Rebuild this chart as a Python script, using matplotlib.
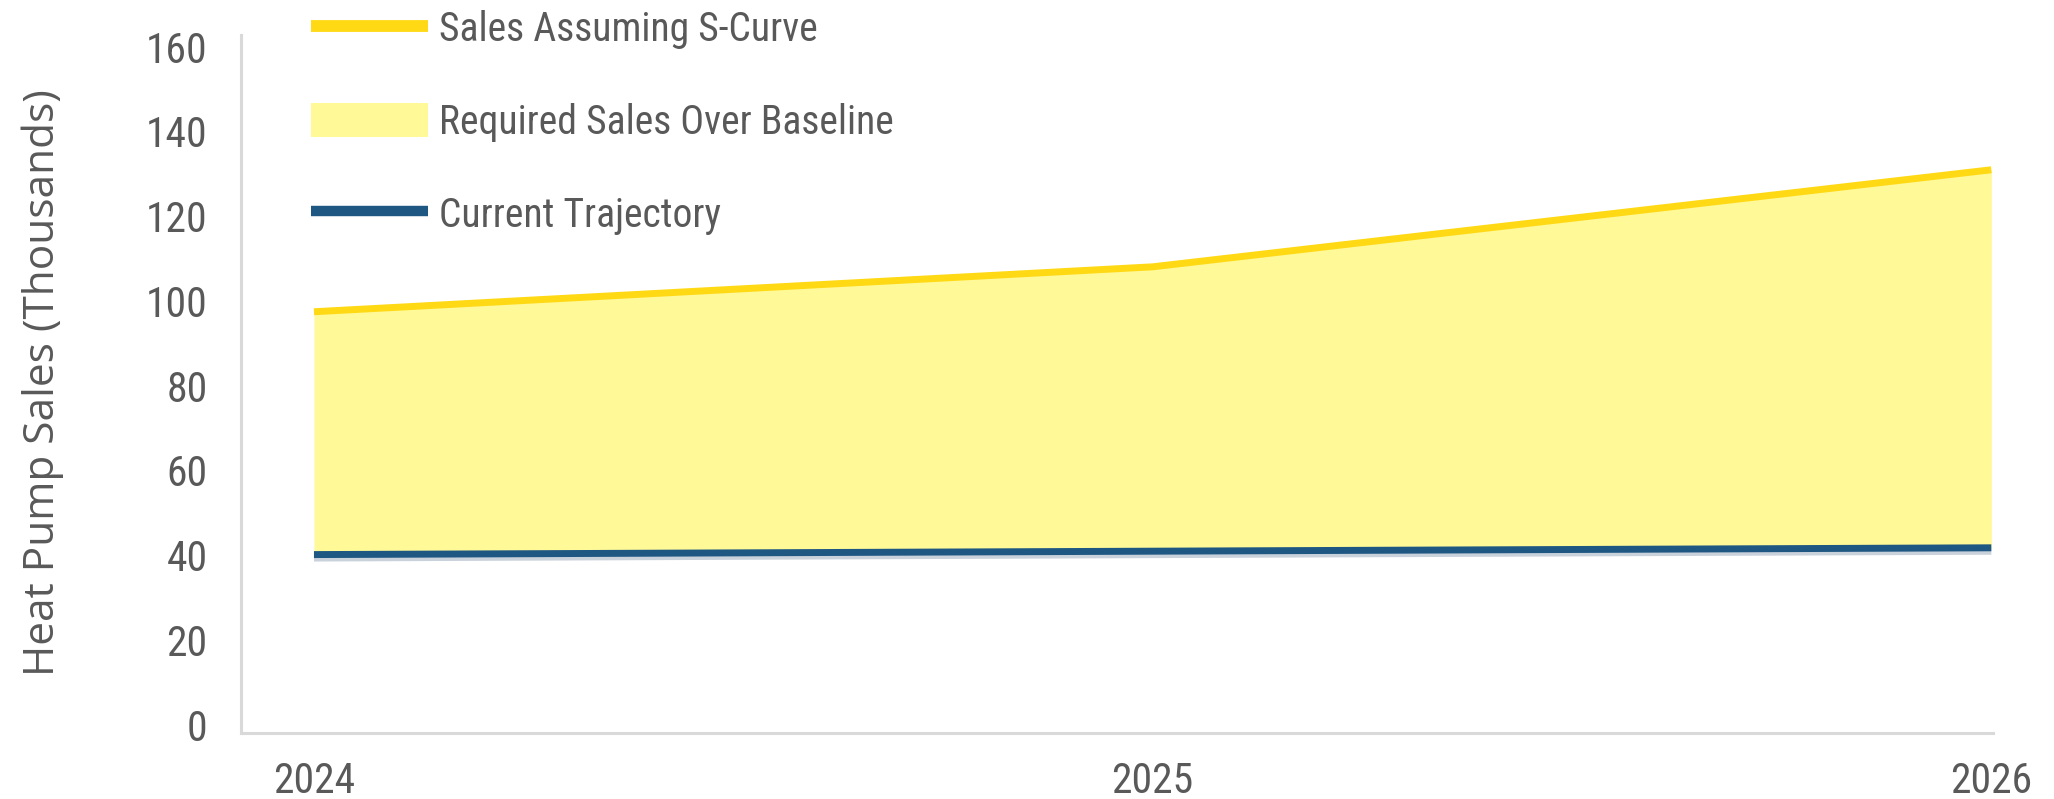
import matplotlib
matplotlib.use("Agg")
import matplotlib.pyplot as plt
import matplotlib.patheffects as pe
from matplotlib import font_manager
from matplotlib.lines import Line2D
from matplotlib.patches import Patch
from matplotlib.transforms import ScaledTranslation

# values (thousands of heat pumps)
years = [2024, 2025, 2026]
s_curve_sales = [99.4, 110.0, 132.9]
current_trajectory = [42.1, 42.9, 43.7]
y_ticks = [0, 20, 40, 60, 80, 100, 120, 140, 160]
legend_labels = ["Sales Assuming S-Curve", "Required Sales Over Baseline", "Current Trajectory"]

YELLOW = "#FFD914"
FILL = "#FFF998"
BLUE = "#1F5783"
TEXT = "#595959"
SPINE = "#D9D9D9"

installed = {f.name for f in font_manager.fontManager.ttflist}


def pick(*names):
    for n in names:
        if n in installed:
            return n
    return "DejaVu Sans"


narrow = pick("Liberation Sans Narrow", "Roboto Condensed", "Open Sans Condensed", "Lato")
wide = pick("Open Sans", "Noto Sans")

W, H = 2054, 799
fig = plt.figure(figsize=(W / 100, H / 100), dpi=100)
ax = fig.add_axes([241 / W, 1 - 733 / H, (1993 - 241) / W, (733 - 35) / H])

ax.fill_between(years, current_trajectory, s_curve_sales, color=FILL, linewidth=0, zorder=1)
ax.plot(years, s_curve_sales, color=YELLOW, linewidth=5, solid_capstyle="butt", zorder=3)
ax.plot(years, current_trajectory, color=BLUE, linewidth=5, solid_capstyle="butt", zorder=4,
        path_effects=[pe.SimpleLineShadow(offset=(0, -2.5), shadow_color="#C9D1DB", alpha=1),
                      pe.Normal()])

ax.set_xlim(2023.913, 2026.002)
ax.set_ylim(0, 164.7)
ax.set_xticks(years)
ax.set_xticklabels([str(y) for y in years])
ax.set_yticks(y_ticks)
ax.set_yticklabels([str(v) for v in y_ticks])
ax.tick_params(length=0, colors=TEXT, labelsize=30)
ax.tick_params(axis="y", pad=24)
ax.tick_params(axis="x", pad=20)
for lab in ax.get_xticklabels() + ax.get_yticklabels():
    lab.set_fontfamily(narrow)

for side in ["top", "right"]:
    ax.spines[side].set_visible(False)
for side in ["left", "bottom"]:
    ax.spines[side].set_color(SPINE)
    ax.spines[side].set_linewidth(2.2)

fig.text(43 / W, 1 - 383 / H, "Heat Pump Sales (Thousands)", rotation=90,
         ha="center", va="center", fontsize=30.5, color=TEXT, family=wide)

handles = [
    Line2D([], [], color=YELLOW, linewidth=8.5, solid_capstyle="butt"),
    Patch(facecolor=FILL, edgecolor="none"),
    Line2D([], [], color=BLUE, linewidth=7.5, solid_capstyle="butt"),
]
leg = fig.legend(handles, legend_labels, loc="upper left",
                 bbox_to_anchor=(311 / W, 1 - 10 / H), frameon=False,
                 prop={"family": narrow, "size": 28.5}, labelcolor=TEXT,
                 handlelength=2.95, handleheight=0.95, handletextpad=0.28,
                 labelspacing=1.36, borderpad=0, borderaxespad=0)

# the y labels in the reference sit a little above their gridline positions
fig.canvas.draw()
lift = ScaledTranslation(0, 6 / 72, fig.dpi_scale_trans)
for lab in ax.get_yticklabels():
    lab.set_transform(lab.get_transform() + lift)

fig.savefig("out.png", dpi=100)
